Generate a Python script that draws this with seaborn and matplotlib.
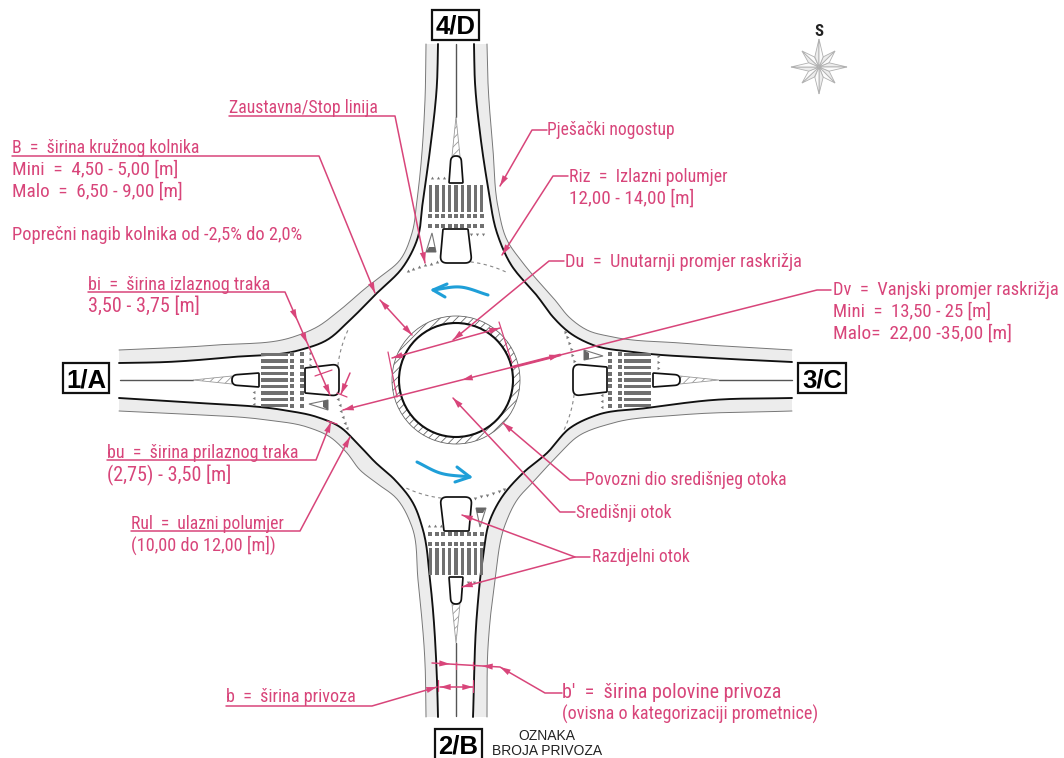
import numpy as np
import matplotlib
matplotlib.use('Agg')
import matplotlib.pyplot as plt
from matplotlib import font_manager as fm
from matplotlib.patches import Rectangle, Wedge, Circle
import seaborn as sns

PINK = '#d8457a'
GREY = '#777777'
BLUE = '#1f9fd8'
CX, CY = 456, 380

# kerb lines, picture pixels
NE_IN = [(474,44),(475,83),(480,133),(488,187),(497,233),(510,263),(538,297),(553,317),(570,333),(593,345),(633,352),(713,358),(792,362)]
NE_OUT = [(487,44),(488,83),(493,150),(498,207),(507,240),(523,263),(555,300),(570,318),(587,330),(613,337),(680,343),(792,350)]
SE_IN = [(792,398),(713,400),(647,408),(597,415),(570,428),(547,453),(523,473),(500,500),(490,520),(483,557),(477,613),(473,717)]
SE_OUT = [(792,411),(680,415),(613,423),(577,437),(560,453),(535,480),(517,500),(505,525),(495,580),(488,647),(487,717)]
SW_IN = [(119,398),(200,403),(283,410),(317,417),(340,427),(357,443),(375,462),(395,480),(413,503),(423,530),(430,580),(437,680),(438,717)]
SW_OUT = [(119,411),(183,414),(267,420),(307,427),(330,437),(347,453),(360,470),(375,482),(397,499),(412,527),(418,580),(425,663),(426,717)]
NW_IN = [(438,44),(437,83),(430,150),(423,200),(417,240),(403,267),(377,293),(350,320),(327,340),(300,350),(233,357),(167,362),(119,363)]
NW_OUT = [(426,44),(425,100),(417,200),(412,233),(400,260),(380,277),(367,287),(340,310),(317,327),(293,337),(217,345),(119,350)]
KERBS = [(NE_IN, NE_OUT), (SE_IN, SE_OUT), (SW_IN, SW_OUT), (NW_IN, NW_OUT)]

# one approach, relative to centre, north arm (the others are turned)
BIG_ISLAND = [(-13,-151),(12,-151),(16,-117),(-16,-117)]
BIG_RADII = [1,1,7,7]
SMALL_ISLAND = [(-7,-197),(7,-197),(5,-224),(-5,-224)]
SMALL_RADII = [1,1,5,5]
WEDGE = [(0,-263),(4,-224),(-4,-224)]
YIELD = [(-24,-147),(-30,-128),(-20,-128)]
YIELD_DARK = [(-27,-133),(-30,-128),(-20,-128),(-21,-133)]
STRIPES = [-25.6,-19.2,-12.8,-6.4,0,6.4,12.8,19.2,25.6]
SQUARE_ROWS = [-164,-154]
TRI_UP_X = [-24,-18,-12]
TRI_DOWN_X = [15,21,27]

# leaders
LEADERS = [
    [(229,116),(395,116),(425,263)],
    [(12,156),(319,156),(375,293)],
    [(380,300),(412,335)],
    [(88,292),(285,292),(330,395)],
    [(107,460),(316,460),(331,422)],
    [(350,373),(341,394)],
    [(131,531),(300,531),(350,437)],
    [(547,130),(532,130),(500,186)],
    [(568,176),(553,176),(502,255)],
    [(564,261),(549,261),(453,340)],
    [(392,358),(500,328)],
    [(831,290),(817,290),(343,410)],
    [(585,480),(570,480),(503,423)],
    [(575,512),(560,512),(453,398)],
    [(590,557),(575,557),(462,515)],
    [(575,557),(462,587)],
    [(562,693),(545,693),(500,667),(432,663)],
    [(226,706),(372,706),(437,687)],
    [(440,687),(473,687)],
]
TICKS = [
    [(315,376),(332,370)], [(337,393),(347,397)], [(327,421),(337,424)],
    [(388,352),(397,397)], [(499,322),(512,363)],
    [(438,680),(438,691)], [(473,680),(473,692)], [(456,662),(456,669)], [(473,662),(473,669)],
]
ARROW_FROM = [(395,116),(319,156),(412,335),(380,300),(285,292),(285,292),(285,292),(316,460),(350,373),(300,531),
              (532,130),(553,176),(549,261),(500,328),(392,358),(817,290),(817,290),(343,410),(570,480),(560,512),
              (575,557),(575,557),(432,663),(500,667),(545,693),(372,706),(473,687),(440,687)]
ARROW_TO = [(425,263),(375,293),(380,300),(412,335),(297,320),(307,343),(330,395),(331,422),(341,394),(350,437),
            (500,186),(502,255),(453,340),(392,358),(500,328),(343,410),(462,380),(560,355),(503,423),(453,398),
            (462,515),(462,587),(450,664),(482,666),(500,667),(437,687),(440,687),(473,687)]

BLUE_TOP = [(488,295),(460,287),(433,290)]
BLUE_TOP_HEAD = [(447,284),(433,290),(445,297)]
BLUE_BOT = [(417,462),(440,473),(470,477)]
BLUE_BOT_HEAD = [(457,467),(470,477),(455,482)]

# text, left, baseline, right
PINK_LABELS = ['Zaustavna/Stop linija', 'B  =  širina kružnog kolnika', 'Mini  =  4,50 - 5,00 [m]', 'Malo  =  6,50 - 9,00 [m]',
               'Poprečni nagib kolnika od -2,5% do 2,0%', 'bi  =  širina izlaznog traka', '3,50 - 3,75 [m]',
               'bu  =  širina prilaznog traka', '(2,75) - 3,50 [m]', 'Rul  =  ulazni polumjer', '(10,00 do 12,00 [m])',
               'Pješački nogostup', 'Riz  =  Izlazni polumjer', '12,00 - 14,00 [m]', 'Du  =  Unutarnji promjer raskrižja',
               'Dv  =  Vanjski promjer raskrižja', 'Mini  =  13,50 - 25 [m]', 'Malo=  22,00 -35,00 [m]',
               'Povozni dio središnjeg otoka', 'Središnji otok', 'Razdjelni otok', "b'  =  širina polovine privoza",
               '(ovisna o kategorizaciji prometnice)', 'b  =  širina privoza']
LABEL_LEFT = [229,12,12,12,12,88,88,107,107,131,131,547,569,569,565,833,833,833,585,576,592,562,562,226]
LABEL_BASE = [113,153,175,197,240,290,312,458,481,529,551,135,182,204,267,295,317,339,485,518,562,698,720,702]
LABEL_RIGHT = [379,200,179,183,303,271,201,300,232,284,276,675,727,694,803,1060,992,1012,787,672,690,788,820,357]

ARM_NAMES = ['4/D','1/A','3/C','2/B']
ARM_BOXES = [(432,10,47,30),(63,363,46,30),(798,363,48,30),(435,729,47,31)]

STAR_TIPS = [(819,39),(835,51),(847,67),(835,83),(819,94),(802,83),(791,67),(802,51)]
STAR_CENTRE = (819,67)


def spline(pts, n=14):
    # Hermite pieces, tangents scaled by chord so uneven points do not overshoot
    p = np.array(pts, dtype=float)
    d = np.linalg.norm(np.diff(p, axis=0), axis=1)
    tan = np.zeros_like(p)
    tan[0] = (p[1]-p[0])/d[0]
    tan[-1] = (p[-1]-p[-2])/d[-1]
    for i in range(1, len(p)-1):
        v = (p[i]-p[i-1])/d[i-1]*d[i] + (p[i+1]-p[i])/d[i]*d[i-1]
        tan[i] = v/(d[i-1]+d[i])
    out = []
    for i in range(len(p)-1):
        for t in np.linspace(0, 1, n, endpoint=False):
            out.append((2*t**3-3*t**2+1)*p[i] + (t**3-2*t**2+t)*d[i]*tan[i]
                       + (-2*t**3+3*t**2)*p[i+1] + (t**3-t**2)*d[i]*tan[i+1])
    out.append(p[-1])
    return np.array(out)


def rounded(pts, radii):
    # closed outline with round corners
    pts = np.array(pts, dtype=float)
    out = []
    for i, r in enumerate(radii):
        a, b, c = pts[i-1], pts[i], pts[(i+1) % len(pts)]
        s = b + (a-b)/np.linalg.norm(a-b)*r
        e = b + (c-b)/np.linalg.norm(c-b)*r
        for t in np.linspace(0, 1, 8):
            out.append((1-t)**2*s + 2*t*(1-t)*b + t**2*e)
    out.append(out[0])
    return np.array(out)


def turn(pts, k):
    # quarter turns clockwise round the centre
    pts = np.array(pts, dtype=float).reshape(-1, 2)
    for _ in range(k):
        pts = np.column_stack([-pts[:, 1], pts[:, 0]])
    return pts + [CX, CY]


def line(ax, pts, color, lw, **kw):
    pts = np.array(pts, dtype=float)
    sns.lineplot(x=pts[:, 0], y=pts[:, 1], sort=False, estimator=None, color=color, linewidth=lw, ax=ax, legend=False, **kw)


sns.set_theme(style='white')
plt.rcParams['hatch.linewidth'] = 0.6
names = {f.name for f in fm.fontManager.ttflist}
narrow = next((n for n in ['Liberation Sans Narrow', 'Roboto Condensed', 'Open Sans Condensed', 'Noto Sans'] if n in names), 'DejaVu Sans')

fig = plt.figure(figsize=(10.64, 7.58), dpi=100, facecolor='white')
ax = fig.add_axes([0, 0, 1, 1])

# kerbs and footways
for inner, outer in KERBS:
    a, b = spline(inner), spline(outer)
    ax.fill(np.r_[a[:, 0], b[::-1, 0]], np.r_[a[:, 1], b[::-1, 1]], color='#ececec', lw=0, zorder=1)
    line(ax, b, '#777777', 0.7, zorder=2)
    line(ax, a, '#111111', 1.35, zorder=2)

# centre island
ax.add_patch(Wedge((CX, CY), 64, 0, 360, width=7, facecolor='white', edgecolor='#666666', hatch='////', lw=0.6, zorder=2))
ax.add_patch(Circle((CX, CY), 57, facecolor='white', edgecolor='#111111', lw=1.5, zorder=3))

# the four arms
for k in range(4):
    c = turn([(0, -336), (0, -263)], k)
    line(ax, c, '#555555', 1.0, zorder=2)
    w = turn(WEDGE, k)
    ax.fill(w[:, 0], w[:, 1], facecolor='white', edgecolor='#999999', hatch='////', lw=0.6, zorder=2)
    for shape, radii in [(BIG_ISLAND, BIG_RADII), (SMALL_ISLAND, SMALL_RADII)]:
        o = turn(rounded(shape, radii), k)
        ax.fill(o[:, 0], o[:, 1], facecolor='white', edgecolor='#111111', lw=1.25, zorder=3)
    y = turn(YIELD, k)
    ax.fill(y[:, 0], y[:, 1], facecolor='white', edgecolor='#777777', lw=0.8, zorder=3)
    y = turn(YIELD_DARK, k)
    ax.fill(y[:, 0], y[:, 1], color='#666666', lw=0, zorder=3)
    for s in STRIPES:
        r = turn([(s-1.7, -195), (s+1.7, -195), (s+1.7, -168), (s-1.7, -168)], k)
        ax.fill(r[:, 0], r[:, 1], color='#707070', lw=0, zorder=3)
    sq = np.array([(s, row) for s in STRIPES for row in SQUARE_ROWS])
    sq = turn(sq, k)
    sns.scatterplot(x=sq[:, 0], y=sq[:, 1], marker='s', s=6.5, color='#707070', linewidth=0, ax=ax, legend=False, zorder=3)
    # give way triangles
    up = turn([(x, -202) for x in TRI_UP_X], k)
    ax.scatter(up[:, 0], up[:, 1], marker=(3, 0, -90*k), s=7, color='#777777', linewidth=0, zorder=3)
    down = turn([(x, -146) for x in TRI_DOWN_X], k)
    ax.scatter(down[:, 0], down[:, 1], marker=(3, 0, 180-90*k), s=7, color='#777777', linewidth=0, zorder=3)
    # dashed ring, triangles on the entry side
    ang = np.radians(np.linspace(7, 25, 30))
    arc = turn(np.column_stack([119*np.sin(ang), -119*np.cos(ang)]), k)
    line(ax, arc, '#888888', 0.8, linestyle=(0, (3, 3)), zorder=2)
    ang = np.radians(np.arange(-24, -6, 3))
    arc = turn(np.column_stack([119*np.sin(ang), -119*np.cos(ang)]), k)
    ax.scatter(arc[:, 0], arc[:, 1], marker=(3, 0, -90*k), s=8, color='#777777', linewidth=0, zorder=3)

# pink leaders
for pts in LEADERS:
    line(ax, pts, PINK, 1.1, zorder=5)
for pts in TICKS:
    line(ax, pts, PINK, 0.9, zorder=5)
line(ax, [(513,367), (560,355)], PINK, 2.0, zorder=5)
for a, b in zip(ARROW_FROM, ARROW_TO):
    ax.annotate('', xy=b, xytext=a, zorder=6,
                arrowprops=dict(arrowstyle='-|>,head_length=0.7,head_width=0.2', mutation_scale=11, color=PINK, lw=0, shrinkA=0, shrinkB=0))

# traffic direction
line(ax, spline(BLUE_TOP), BLUE, 2.2, zorder=5)
line(ax, BLUE_TOP_HEAD, BLUE, 2.2, zorder=5)
line(ax, spline(BLUE_BOT), BLUE, 2.2, zorder=5)
line(ax, BLUE_BOT_HEAD, BLUE, 2.2, zorder=5)

# compass
sc = np.array(STAR_CENTRE, dtype=float)
tips = np.array(STAR_TIPS, dtype=float)
for i, tip in enumerate(tips):
    ang = np.arctan2(*(tip-sc)[::-1])
    size = 11
    l = sc + size*np.array([np.cos(ang-0.39), np.sin(ang-0.39)])
    r = sc + size*np.array([np.cos(ang+0.39), np.sin(ang+0.39)])
    ax.fill([sc[0], l[0], tip[0]], [sc[1], l[1], tip[1]], facecolor='#ececec', edgecolor='#b0b0b0', lw=0.6, zorder=2 + (i % 2 == 0))
    ax.fill([sc[0], r[0], tip[0]], [sc[1], r[1], tip[1]], facecolor='#fbfbfb', edgecolor='#b0b0b0', lw=0.6, zorder=2 + (i % 2 == 0))
ax.text(819, 36, 'S', family=narrow, fontsize=12, fontweight='bold', ha='center', va='baseline', color='#222222')

ax.set_xlim(0, 1064)
ax.set_ylim(758, 0)
ax.axis('off')

# text, size fitted to the width in the picture but kept in a small range
renderer = fig.canvas.get_renderer()
for s, x0, y0, x1 in zip(PINK_LABELS, LABEL_LEFT, LABEL_BASE, LABEL_RIGHT):
    t = ax.text(x0, y0, s, family=narrow, fontsize=12.5, color=PINK, ha='left', va='baseline', zorder=7)
    w = t.get_window_extent(renderer).width
    t.set_fontsize(min(14.5, max(11.5, 12.5*(x1-x0)/w)))

for name, (x, y, w, h) in zip(ARM_NAMES, ARM_BOXES):
    ax.add_patch(Rectangle((x, y), w, h, facecolor='white', edgecolor='#111111', lw=1.6, zorder=4))
    ax.text(x+w/2, y+h/2+9, name, family='Liberation Sans', fontweight='bold', fontsize=18.5, color='black', ha='center', va='baseline', zorder=5)
ax.text(547, 740, 'OZNAKA', family='Liberation Sans', fontsize=10, color='#222222', ha='center', va='baseline')
ax.text(547, 755, 'BROJA PRIVOZA', family='Liberation Sans', fontsize=10, color='#222222', ha='center', va='baseline')

fig.savefig('out.png', dpi=100)
